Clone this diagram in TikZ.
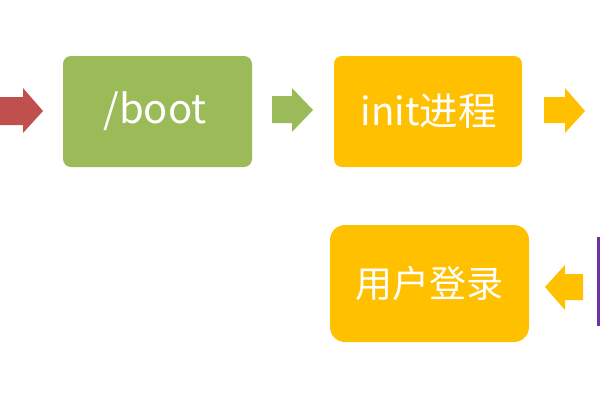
\documentclass[tikz,border=0pt]{standalone}
\usepackage{fontspec}
\setmainfont{Noto Sans CJK SC}
\definecolor{cred}{HTML}{C0504D}
\definecolor{cgreen}{HTML}{9BBB59}
\definecolor{cyellow}{HTML}{FFC000}
\definecolor{cpurple}{HTML}{7030A0}
\tikzset{
  stagebox/.style={rounded corners=8pt, inner sep=0pt, text=white, font=\fontsize{37}{40}\selectfont},
}
\begin{document}
\begin{tikzpicture}[x=1pt,y=-1pt]
\useasboundingbox (0,0) rectangle (600,400);
% boxes
\fill[cgreen, rounded corners=8pt] (63,56) rectangle (252,167);
\node[stagebox, font=\fontsize{40}{42}\selectfont] (boot) at (155,111) {/boot};
\fill[cyellow, rounded corners=8pt] (334,56) rectangle (522,167);
\node[stagebox, font=\fontsize{38.5}{41}\selectfont] (init) at (428.5,111.5) {init进程};
\fill[cyellow, rounded corners=15pt] (330,225) rectangle (529,342);
\node[stagebox] (login) at (429.5,283.5) {用户登录};
% block arrows
\fill[cred] (0,97) -- (23,97) -- (23,88) -- (43,111) -- (23,133) -- (23,125) -- (0,125) -- cycle;
\fill[cgreen] (272,96) -- (292,96) -- (292,88) -- (313,110) -- (292,132) -- (292,123) -- (272,123) -- cycle;
\fill[cyellow] (544,97) -- (565,97) -- (565,88) -- (585,111) -- (565,133) -- (565,123) -- (544,123) -- cycle;
\fill[cyellow] (583,274) -- (565,274) -- (565,265) -- (545,287) -- (565,310) -- (565,300) -- (583,300) -- cycle;
% purple edge of next box
\fill[cpurple] (597,237) rectangle (600,326);
\end{tikzpicture}
\end{document}
